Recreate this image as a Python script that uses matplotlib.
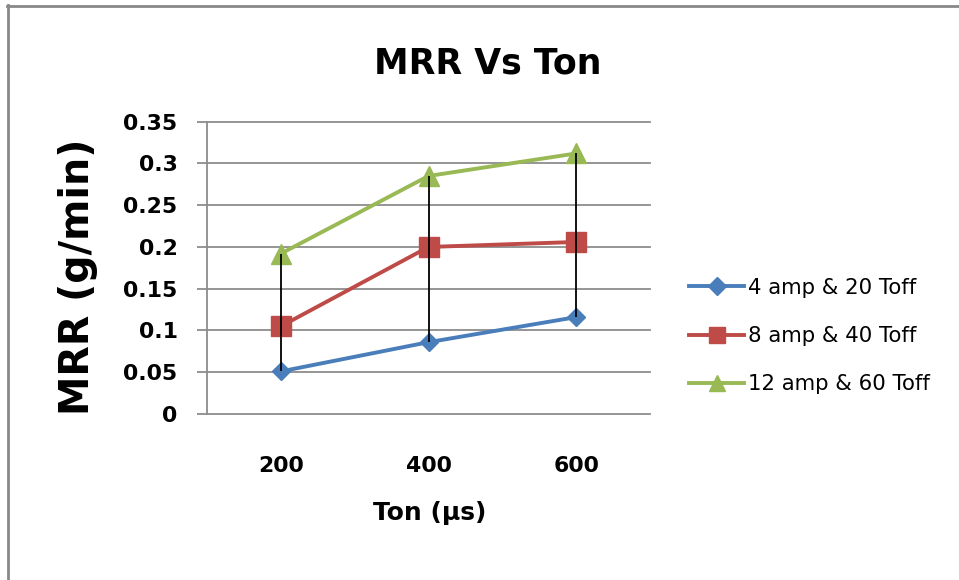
import matplotlib
matplotlib.use("Agg")
import matplotlib.pyplot as plt
from matplotlib.lines import Line2D

# ---- data ----
categories = ["200", "400", "600"]
series_names = ["4 amp & 20 Toff", "8 amp & 40 Toff", "12 amp & 60 Toff"]
mrr_4amp = [0.051, 0.086, 0.116]
mrr_8amp = [0.105, 0.200, 0.206]
mrr_12amp = [0.192, 0.285, 0.312]
y_ticks = [0, 0.05, 0.1, 0.15, 0.2, 0.25, 0.3, 0.35]
y_tick_labels = ["0", "0.05", "0.1", "0.15", "0.2", "0.25", "0.3", "0.35"]

colors = ["#4A7EBB", "#BE4B48", "#98B954"]
markers = ["D", "s", "^"]
msizes = [9.5, 14, 14]

W, H = 959, 580
fig = plt.figure(figsize=(W / 100, H / 100), dpi=100)
plt.rcParams['font.family'] = ['DejaVu Sans']

def fx(px):
    return px / W

def fy(py):
    return 1 - py / H

ax = fig.add_axes([fx(207), fy(414), fx(650) - fx(207), fy(121.7) - fy(414)])

x = list(range(len(categories)))
all_series = [mrr_4amp, mrr_8amp, mrr_12amp]
lines = []
for vals, c, m, ms, name in zip(all_series, colors, markers, msizes, series_names):
    ln, = ax.plot(x, vals, color=c, lw=2.8, marker=m, markersize=ms,
                  markerfacecolor=c, markeredgecolor=c, label=name, zorder=3)
    lines.append(ln)

# high-low lines
lows = [min(v) for v in zip(*all_series)]
highs = [max(v) for v in zip(*all_series)]
ax.vlines(x, lows, highs, colors="black", lw=1.3, zorder=4)

ax.set_xlim(-0.5, len(categories) - 0.5)
ax.set_ylim(0, 0.35)
ax.set_yticks(y_ticks)
ax.set_yticklabels(y_tick_labels)
ax.set_xticks(x)
ax.set_xticklabels(categories)

grid_c = "#8C8C8C"
ax.yaxis.grid(True, color=grid_c, lw=1.3)
for gl in ax.get_ygridlines():
    gl.set_clip_on(False)
ax.set_axisbelow(True)
for s in ["top", "right", "bottom"]:
    ax.spines[s].set_visible(False)
ax.spines["left"].set_color(grid_c)
ax.spines["left"].set_linewidth(1.3)
ax.tick_params(axis="y", length=7.2, width=1.3, color=grid_c, pad=14,
               labelsize=15.8)
ax.tick_params(axis="x", length=0, pad=30, labelsize=15.8)
for lab in ax.get_xticklabels() + ax.get_yticklabels():
    lab.set_fontweight("bold")

# titles
fig.text(fx(488), fy(73), "MRR Vs Ton", ha="center", va="baseline",
         fontsize=25, fontweight="bold")
fig.text(fx(430), fy(520), "Ton (µs)", ha="center", va="baseline",
         fontsize=18, fontweight="bold")
fig.text(fx(89), fy(277), "MRR (g/min)", ha="center", va="baseline",
         rotation=90, rotation_mode="anchor", fontsize=28.5, fontweight="bold")

# legend
handles = []
for c, m, name in zip(colors, markers, series_names):
    handles.append(Line2D([], [], color=c, lw=2.8, marker=m,
                          markersize=9 if m == "D" else 11,
                          markerfacecolor=c, markeredgecolor=c))
fig.legend(handles, series_names, loc="center left",
           bbox_to_anchor=(fx(689), fy(336)), frameon=False,
           fontsize=15.3, borderpad=0, handlelength=2.6, handletextpad=0.2,
           labelspacing=1.33, borderaxespad=0)

# outer border (top and left only visible)
fig.add_artist(Line2D([fx(7), 1.0], [fy(5.5), fy(5.5)], color="#888888", lw=2))
fig.add_artist(Line2D([fx(7.5), fx(7.5)], [fy(5), 0.0], color="#888888", lw=2))

fig.savefig("out.png", dpi=100)
